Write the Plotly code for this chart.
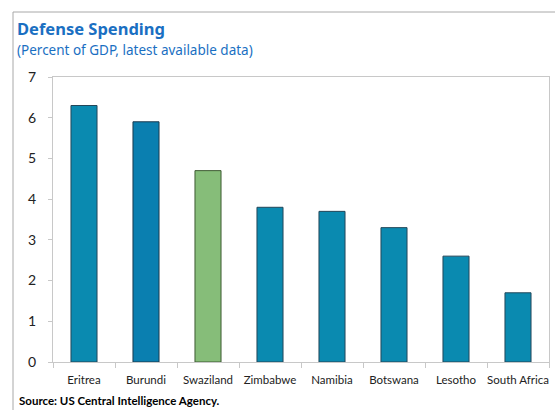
import plotly.graph_objects as go

categories = ["Eritrea", "Burundi", "Swaziland", "Zimbabwe", "Namibia", "Botswana", "Lesotho", "South Africa"]
values = [6.3, 5.9, 4.7, 3.8, 3.7, 3.3, 2.6, 1.7]
bar_colors = ["#0A8AB0", "#0A7FB0", "#86BD79", "#0A8AB0", "#0A8AB0", "#0A8AB0", "#0A8AB0", "#0A8AB0"]
line_colors = ["#23475a", "#1b3a4e", "#3d5a32", "#23475a", "#23475a", "#23475a", "#23475a", "#23475a"]
y_ticks = [0, 1, 2, 3, 4, 5, 6, 7]

W, H = 555, 410
L, R, T, B = 53, 6, 77, 48
pw, ph = W - L - R, H - T - B

def px(x):
    return (x - L) / pw

def py(y):
    return (H - B - y) / ph

fig = go.Figure(go.Bar(
    x=categories, y=values,
    marker=dict(color=bar_colors, line=dict(color=line_colors, width=1)),
    width=0.42,
))

fig.update_layout(
    width=W, height=H,
    margin=dict(l=L, r=R, t=T, b=B, autoexpand=False),
    paper_bgcolor="white", plot_bgcolor="white",
    showlegend=False,
    font=dict(family="Lato, sans-serif", color="#222"),
    xaxis=dict(
        showline=True, linecolor="#c8c8c8", mirror=True, automargin=False, tickangle=0,
        ticks="outside", tickson="boundaries", ticklen=5, tickcolor="#c8c8c8",
        ticklabelstandoff=7,
        tickfont=dict(size=11.5, color="#222"), showgrid=False,
    ),
    yaxis=dict(
        range=[0, 7], tickvals=y_ticks, automargin=False,
        showline=True, linecolor="#c8c8c8", mirror=True,
        ticks="outside", ticklen=4, tickcolor="#c8c8c8",
        ticklabelstandoff=9,
        tickfont=dict(size=14, color="#222"), showgrid=False, zeroline=False,
    ),
    shapes=[
        dict(type="line", xref="paper", yref="paper", x0=px(13), x1=px(556), y0=py(12), y1=py(12),
             line=dict(color="#a8a8a8", width=1)),
        dict(type="line", xref="paper", yref="paper", x0=px(13), x1=px(13), y0=py(12), y1=py(411),
             line=dict(color="#a8a8a8", width=1)),
    ],
    annotations=[
        dict(text="<b>Defense Spending</b>", xref="paper", yref="paper", x=px(15), y=py(42),
             xanchor="left", yanchor="bottom", showarrow=False,
             font=dict(size=16.5, color="#1A6FC2", family="Noto Sans, sans-serif")),
        dict(text="(Percent of GDP, latest available data)", xref="paper", yref="paper", x=px(15), y=py(61),
             xanchor="left", yanchor="bottom", showarrow=False,
             font=dict(size=13.5, color="#1A6FC2", family="Noto Sans, sans-serif")),
        dict(text="<b>Source: US Central Intelligence Agency.</b>", xref="paper", yref="paper", x=px(17), y=py(409),
             xanchor="left", yanchor="bottom", showarrow=False,
             font=dict(size=11.5, color="#000", family="Lato, sans-serif")),
    ],
)

fig.write_html("out.html")
